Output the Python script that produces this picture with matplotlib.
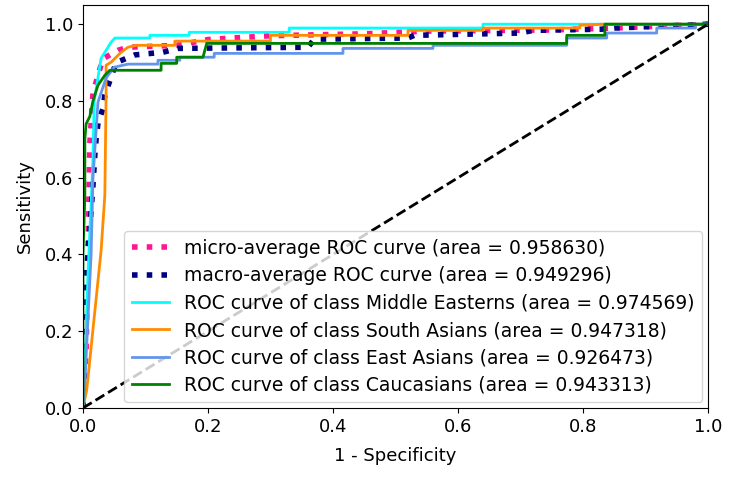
import numpy as np
import matplotlib.pyplot as plt

# ROC data
micro_fpr = [0, 0.005, 0.008, 0.011, 0.016, 0.024, 0.032, 0.056, 0.072, 0.15, 0.2, 0.3, 0.45, 0.55, 0.75, 0.85, 1.0]
micro_tpr = [0, 0.15, 0.40, 0.69, 0.82, 0.867, 0.91, 0.932, 0.94, 0.945, 0.96, 0.97, 0.975, 0.982, 0.985, 0.99, 1.0]

macro_fpr = [0, 0.006, 0.016, 0.019, 0.021, 0.024, 0.032, 0.035, 0.053, 0.083, 0.128, 0.152, 0.36, 0.37,
             0.52, 0.53, 0.70, 0.72, 0.83, 0.85, 1.0]
macro_tpr = [0, 0.36, 0.58, 0.66, 0.70, 0.742, 0.78, 0.815, 0.90, 0.92, 0.927, 0.937, 0.94, 0.961,
             0.964, 0.971, 0.977, 0.984, 0.987, 0.99, 1.0]

classes = ['Middle Easterns', 'South Asians', 'East Asians', 'Caucasians']
areas = [0.974569, 0.947318, 0.926473, 0.943313]
micro_area = 0.958630
macro_area = 0.949296
colors = ['aqua', 'darkorange', 'cornflowerblue', 'green']

fpr = [
    [0, 0.003, 0.008, 0.013, 0.016, 0.018, 0.029, 0.045, 0.051, 0.107, 0.107, 0.17, 0.17, 0.33, 0.33,
     0.64, 0.64, 1.0],
    [0, 0.006, 0.029, 0.035, 0.037, 0.037, 0.045, 0.061, 0.072, 0.085, 0.147, 0.147, 0.30, 0.30, 0.52,
     0.52, 0.64, 0.64, 0.795, 0.795, 0.83, 1.0],
    [0, 0.003, 0.013, 0.016, 0.024, 0.037, 0.05, 0.072, 0.12, 0.12, 0.155, 0.155, 0.21, 0.21, 0.416,
     0.416, 0.56, 0.56, 0.774, 0.774, 0.838, 0.838, 0.918, 0.918, 0.98, 0.98, 1.0],
    [0, 0, 0.003, 0.003, 0.005, 0.011, 0.016, 0.024, 0.035, 0.043, 0.125, 0.125, 0.15, 0.15, 0.192,
     0.198, 0.774, 0.774, 0.835, 0.835, 1.0],
]
tpr = [
    [0, 0.10, 0.35, 0.53, 0.65, 0.80, 0.911, 0.953, 0.964, 0.964, 0.971, 0.971, 0.979, 0.979, 0.99,
     0.99, 1.0, 1.0],
    [0, 0.047, 0.41, 0.555, 0.815, 0.893, 0.901, 0.927, 0.94, 0.945, 0.945, 0.956, 0.956, 0.971, 0.971,
     0.984, 0.984, 0.99, 0.99, 0.997, 1.0, 1.0],
    [0, 0.065, 0.40, 0.60, 0.797, 0.86, 0.888, 0.896, 0.896, 0.906, 0.906, 0.914, 0.914, 0.924, 0.924,
     0.937, 0.937, 0.945, 0.945, 0.964, 0.964, 0.977, 0.977, 0.99, 0.99, 1.0, 1.0],
    [0, 0.40, 0.55, 0.70, 0.74, 0.76, 0.80, 0.841, 0.867, 0.88, 0.88, 0.898, 0.898, 0.914, 0.914,
     0.95, 0.95, 0.971, 0.971, 1.0, 1.0],
]

plt.rcParams['font.size'] = 13
fig = plt.figure(figsize=(7.31, 4.78), dpi=100)
ax = fig.add_axes([0.1135, 0.1464, 0.855, 0.8431])

ax.plot(micro_fpr, micro_tpr, label='micro-average ROC curve (area = {0:0.6f})'.format(micro_area),
        color='deeppink', linestyle=':', linewidth=4)
ax.plot(macro_fpr, macro_tpr, label='macro-average ROC curve (area = {0:0.6f})'.format(macro_area),
        color='navy', linestyle=':', linewidth=4)

for i in range(len(classes)):
    ax.plot(fpr[i], tpr[i], color=colors[i], lw=2,
            label='ROC curve of class {0} (area = {1:0.6f})'.format(classes[i], areas[i]))

ax.plot([0, 1], [0, 1], 'k--', lw=2)
ax.set_xlim([0.0, 1.0])
ax.set_ylim([0.0, 1.05])
ax.set_xlabel('1 - Specificity', labelpad=8)
ax.set_ylabel('Sensitivity', labelpad=8)
ax.legend(loc='lower right', borderaxespad=0.3, labelspacing=0.45, fontsize=13.5)

fig.savefig('out.png', dpi=100)
